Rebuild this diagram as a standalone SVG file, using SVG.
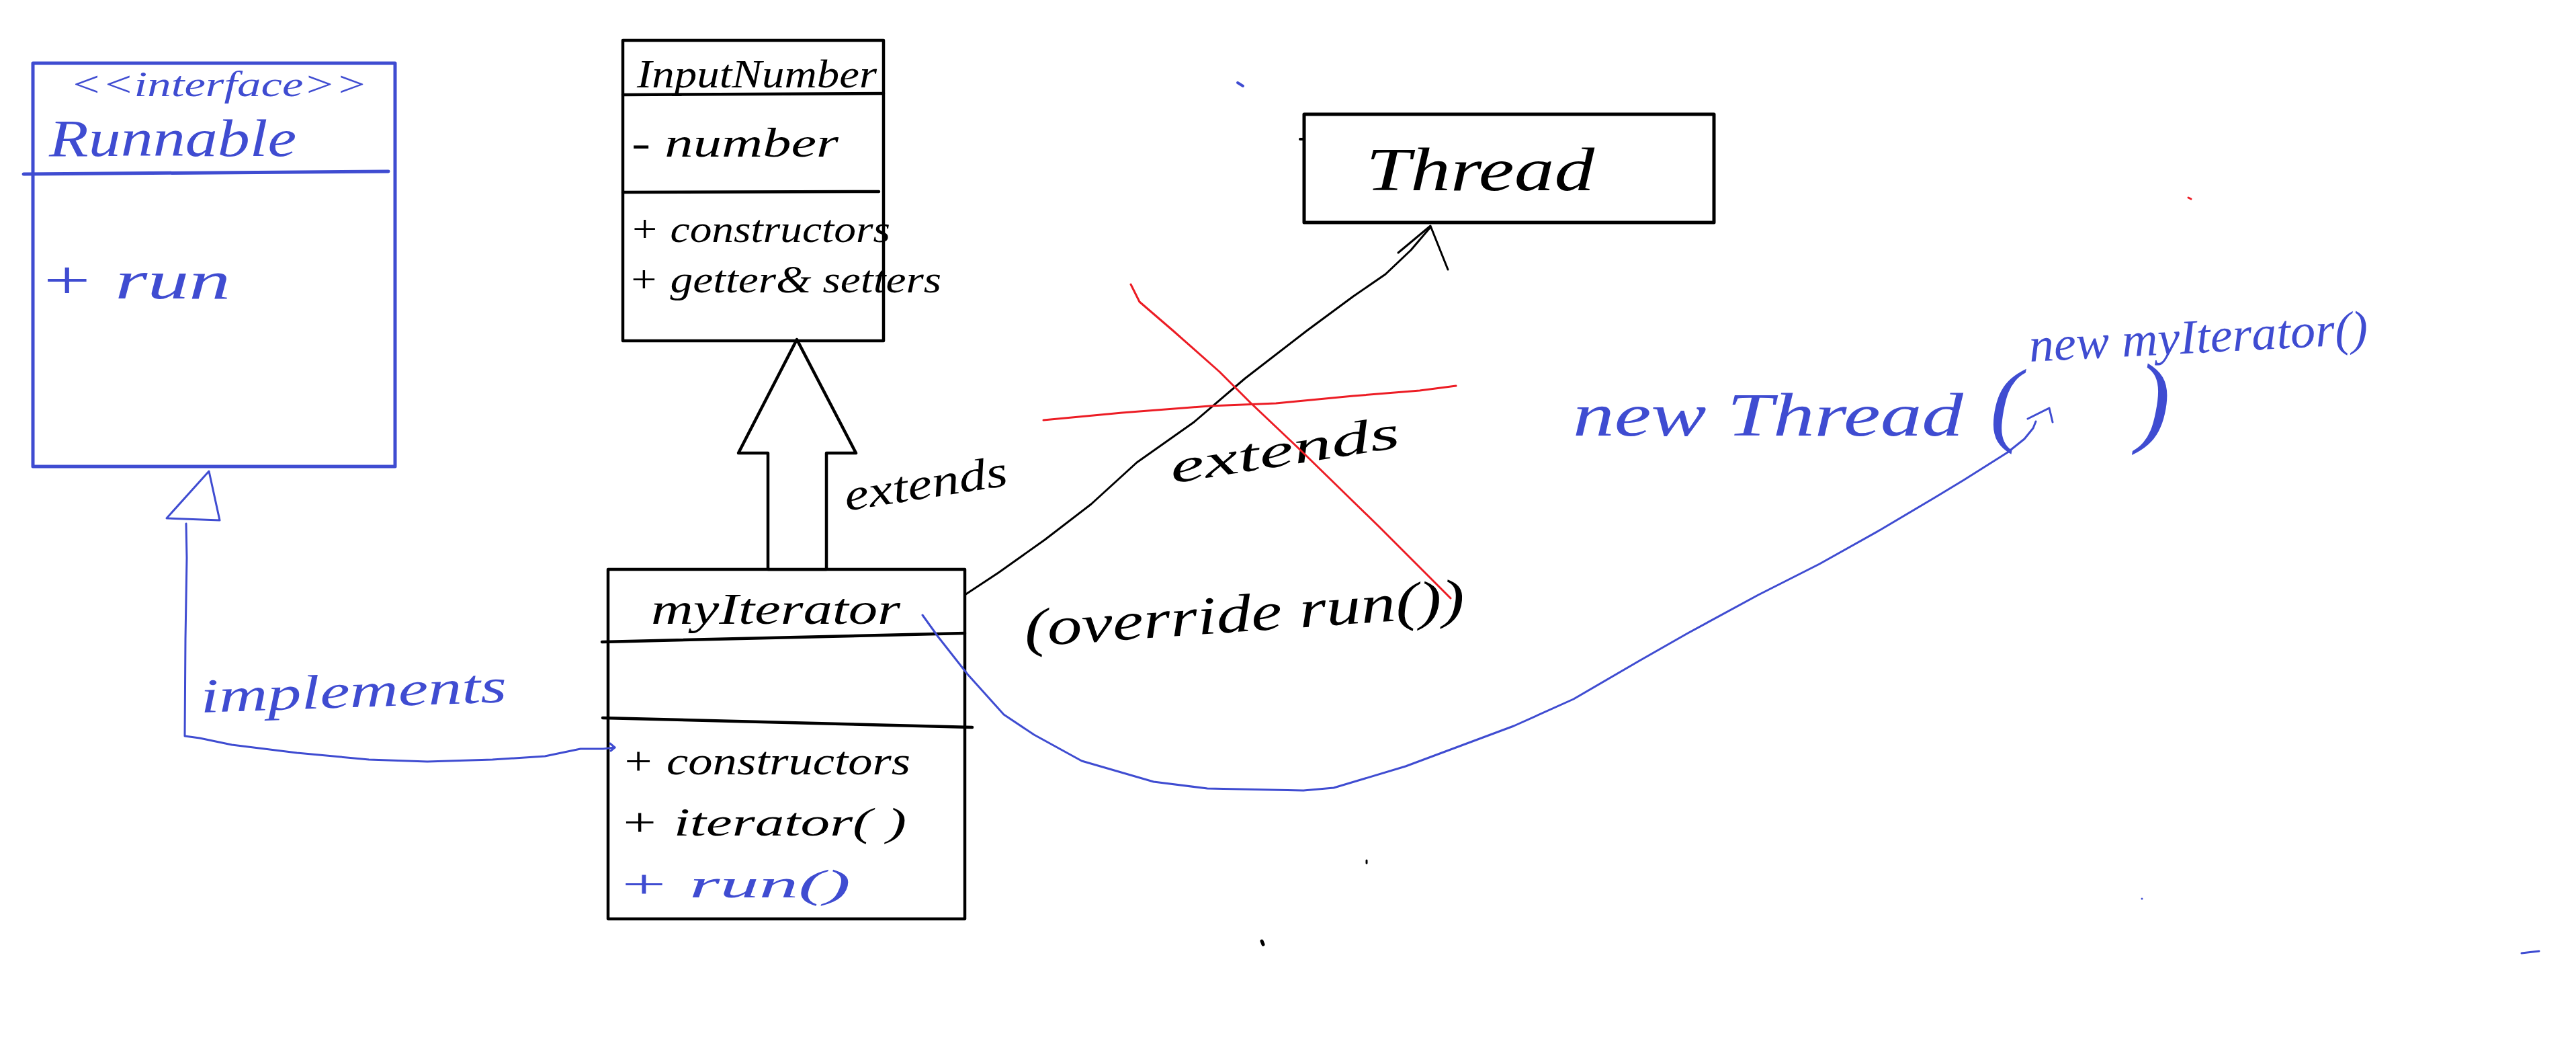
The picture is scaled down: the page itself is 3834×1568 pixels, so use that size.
<svg xmlns="http://www.w3.org/2000/svg" width="3834" height="1568" viewBox="0 0 3834 1568">
<style>
.b{fill:none;stroke:#3f4cd1;stroke-linecap:round;stroke-linejoin:round}
.k{fill:none;stroke:#000;stroke-linecap:round;stroke-linejoin:round}
.r{fill:none;stroke:#ec1c24;stroke-width:3;stroke-linecap:round;stroke-linejoin:round}
.box{fill:#fff}
text{font-family:"Liberation Serif","DejaVu Serif",serif;font-style:italic}
.tb{fill:#3f4cd1}
.tk{fill:#000}
</style>
<rect width="3834" height="1568" fill="#fff"/>

<g id="runnable">
  <rect class="b box" x="49" y="94" width="539" height="600" stroke-width="5"/>
  <path class="b" stroke-width="5" d="M35,259 L578,255"/>
  <text class="tb" x="104" y="143" font-size="52" textLength="443" lengthAdjust="spacingAndGlyphs">&lt;&lt;interface&gt;&gt;</text>
  <text class="tb" x="73" y="232" font-size="78" textLength="368" lengthAdjust="spacingAndGlyphs">Runnable</text>
  <text class="tb" x="57" y="444" font-size="80" textLength="286" lengthAdjust="spacingAndGlyphs">+ run</text>
</g>

<g id="inputnumber">
  <rect class="k box" x="927" y="60" width="388" height="447" stroke-width="4.5"/>
  <path class="k" stroke-width="4.5" d="M927,141 L1315,139"/>
  <path class="k" stroke-width="4.5" d="M927,286 L1308,285"/>
  <text class="tk" x="948" y="130" font-size="60" textLength="357" lengthAdjust="spacingAndGlyphs">InputNumber</text>
  <text class="tk" x="940" y="233" font-size="62" textLength="308" lengthAdjust="spacingAndGlyphs">- number</text>
  <text class="tk" x="937" y="360" font-size="58" textLength="388" lengthAdjust="spacingAndGlyphs">+ constructors</text>
  <text class="tk" x="935" y="435" font-size="58" textLength="466" lengthAdjust="spacingAndGlyphs">+ getter&amp; setters</text>
</g>

<g id="myiterator">
  <rect class="k box" x="905" y="847" width="531" height="520" stroke-width="4.5"/>
  <path class="k" stroke-width="4.5" d="M896,955 L1436,942"/>
  <path class="k" stroke-width="4.5" d="M897,1068 L1447,1082"/>
  <text class="tk" x="969" y="928" font-size="66" textLength="371" lengthAdjust="spacingAndGlyphs">myIterator</text>
  <text class="tk" x="925" y="1152" font-size="60" textLength="430" lengthAdjust="spacingAndGlyphs">+ constructors</text>
  <text class="tk" x="922" y="1243" font-size="60" textLength="427" lengthAdjust="spacingAndGlyphs">+ iterator( )</text>
  <text class="tb" x="918" y="1335" font-size="60" textLength="348" lengthAdjust="spacingAndGlyphs">+ run()</text>
</g>

<g id="thread">
  <rect class="k box" x="1941" y="170" width="610" height="161" stroke-width="5"/>
  <text class="tk" x="2033" y="283" font-size="90" textLength="340" lengthAdjust="spacingAndGlyphs">Thread</text>
</g>

<g id="connectors">
  <!-- implements: myIterator -> Runnable -->
  <path class="b" stroke-width="3" d="M277,779 L278,830 L276,950 L275,1095 L297,1098 L345,1108 L442,1120 L549,1130 L636,1133 L733,1130 L811,1125 L864,1114 L898,1114 L915,1112"/>
  <path class="b" stroke-width="3" d="M908,1106 L915,1112 L909,1117"/>
  <path class="b box" stroke-width="3" d="M311,701 L327,774 L248,771 Z"/>
  <text class="tb" x="299" y="1060" font-size="72" textLength="456" lengthAdjust="spacingAndGlyphs" transform="rotate(-2 299 1060)">implements</text>

  <!-- extends: myIterator -> InputNumber -->
  <path class="k box" stroke-width="4.5" d="M1186,505 L1274,674 L1230,674 L1230,847 L1143,847 L1143,674 L1099,674 Z"/>
  <text class="tk" x="1260" y="760" font-size="66" textLength="245" lengthAdjust="spacingAndGlyphs" transform="rotate(-9 1260 760)">extends</text>

  <!-- myIterator -> Thread -->
  <path class="k" stroke-width="3" d="M1436,885 L1486,852 L1555,803 L1624,750 L1692,688 L1777,628 L1853,563 L1945,492 L2014,441 L2062,408 L2100,372 L2129,338"/>
  <path class="k" stroke-width="3" d="M2081,376 L2129,336 L2155,401"/>

  <!-- myIterator -> new Thread( ... ) -->
  <path class="b" stroke-width="3" d="M1373,915 L1396,947 L1440,1003 L1494,1063 L1539,1093 L1610,1132 L1717,1163 L1797,1173 L1940,1176 L1985,1172 L2092,1140 L2253,1080 L2342,1040 L2440,983 L2512,942 L2617,885 L2708,839 L2799,788 L2880,740 L2923,714 L2988,673 L3013,653 L3026,637 L3030,627"/>
  <path class="b" stroke-width="3" d="M3018,623 L3050,607 L3055,628"/>
</g>

<g id="crossed">
  <text class="tk" x="1745" y="719" font-size="70" textLength="345" lengthAdjust="spacingAndGlyphs" transform="rotate(-9 1745 719)">extends</text>
  <path class="r" d="M1683,423 L1696,449 L1746,492 L1815,553 L1861,599 L1937,671 L2052,783 L2159,890"/>
  <path class="r" d="M1553,625 L1670,614 L1800,604 L1899,600 L2014,589 L2113,581 L2167,574"/>
</g>

<g id="notes">
  <text class="tk" x="1526" y="962" font-size="80" textLength="657" lengthAdjust="spacingAndGlyphs" transform="rotate(-4 1526 962)">(override run())</text>
  <text class="tb" x="2341" y="648" font-size="90" textLength="581" lengthAdjust="spacingAndGlyphs">new Thread</text>
  <text class="tb" x="2962" y="646" font-size="140">(</text>
  <text class="tb" x="3021" y="538" font-size="72" textLength="505" lengthAdjust="spacingAndGlyphs" transform="rotate(-3 3021 538)">new myIterator()</text>
  <text class="tb" x="3180" y="645" font-size="150">)</text>
</g>

<g id="specks">
  <path class="b" stroke-width="4" d="M1842,123 L1850,128"/>
  <path class="k" stroke-width="4" d="M1935,207 L1941,207"/>
  <path class="r" stroke-width="3" d="M3257,294 L3261,296"/>
  <path class="k" stroke-width="3" d="M2034,1280 L2034,1284"/>
  <path class="k" stroke-width="5" d="M1878,1400 L1880,1405"/>
  <circle cx="3188" cy="1337" r="1.5" fill="#3f4cd1"/>
  <path class="b" stroke-width="3" d="M3753,1418 L3770,1416 L3779,1415"/>
</g>
</svg>
